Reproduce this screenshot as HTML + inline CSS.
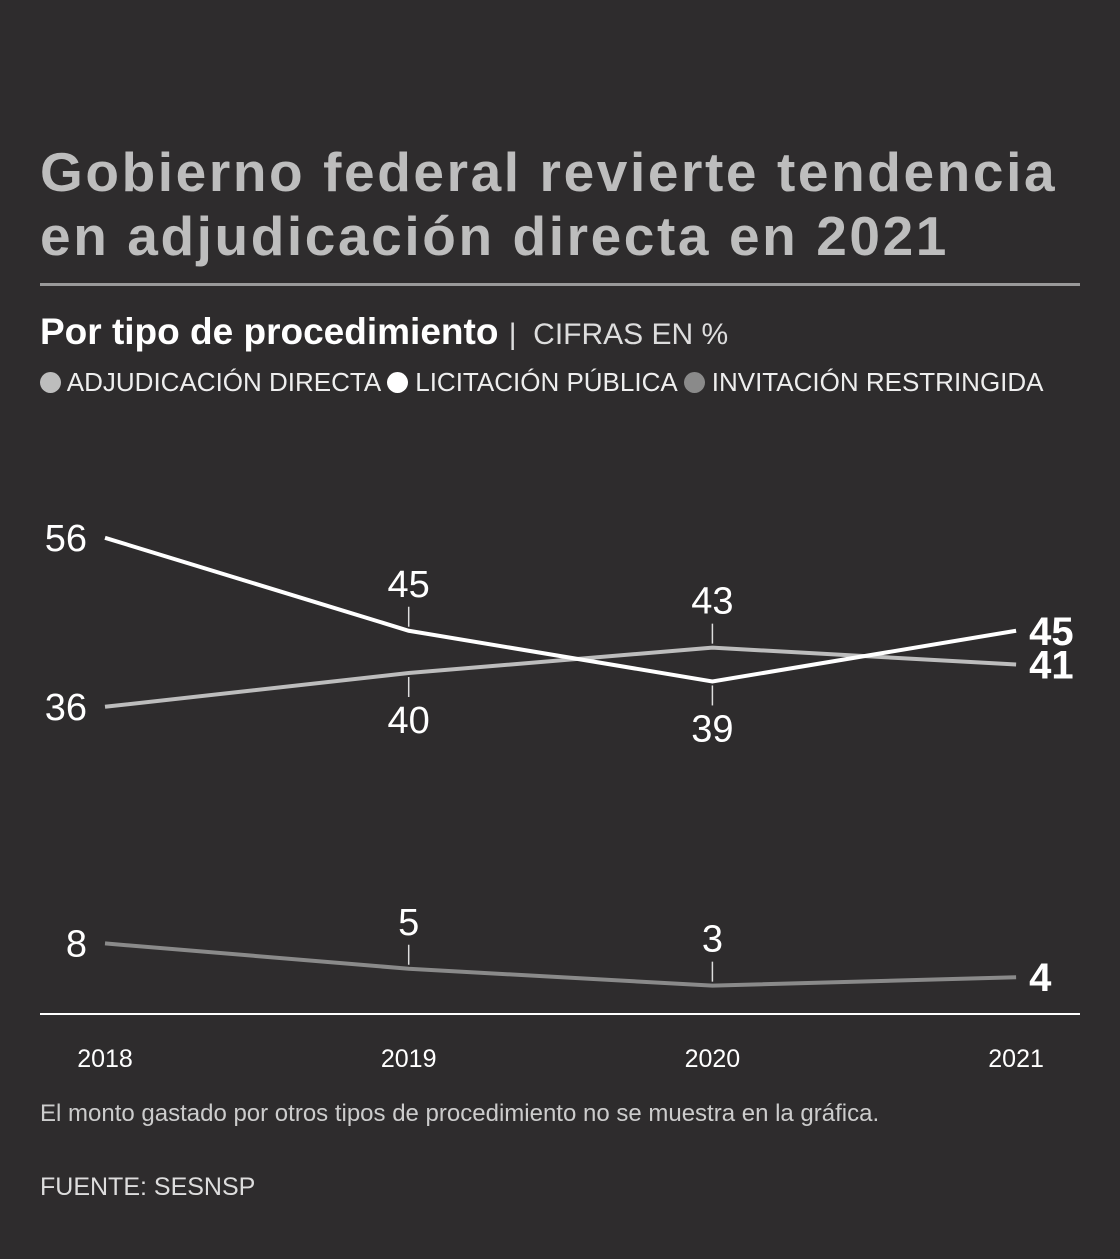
<!DOCTYPE html>
<html><head><meta charset="utf-8"><style>
html,body{margin:0;padding:0;background:#2e2c2d;}
body{width:1120px;height:1259px;overflow:hidden;font-family:"Liberation Sans",sans-serif;position:relative;}
.t{position:absolute;white-space:nowrap;}
</style></head><body>
<div class="t" style="left:40px;top:140px;font-size:55px;font-weight:bold;color:#bdbdbd;line-height:64px;letter-spacing:2.6px">Gobierno federal revierte tendencia<br>en adjudicación directa en 2021</div>
<div style="position:absolute;left:40px;top:283px;width:1040px;height:3px;background:#9a9a9a"></div>
<div class="t" style="left:40px;top:311px;font-size:37px;color:#fff"><b>Por tipo de procedimiento</b> <span style="font-size:30px;color:#ddd">| &nbsp;CIFRAS EN %</span></div>
<div class="t" style="left:40px;top:367px;font-size:26px;color:#eee">
<span><span style="display:inline-block;width:21px;height:21px;border-radius:50%;background:#bdbdbd;vertical-align:-2px"></span> ADJUDICACIÓN DIRECTA</span>
<span><span style="display:inline-block;width:21px;height:21px;border-radius:50%;background:#fff;vertical-align:-2px"></span> LICITACIÓN PÚBLICA</span>
<span><span style="display:inline-block;width:21px;height:21px;border-radius:50%;background:#8a8a8a;vertical-align:-2px"></span> INVITACIÓN RESTRINGIDA</span></div>
<svg id="chart" width="1120" height="1259" style="position:absolute;left:0;top:0" font-family="Liberation Sans, sans-serif"></svg>
<div class="t" style="left:40px;top:1100px;font-size:24px;color:#ccc">El monto gastado por otros tipos de procedimiento no se muestra en la gráfica.</div>
<div class="t" style="left:40px;top:1173px;font-size:25px;color:#ddd">FUENTE: SESNSP</div>
<script>
const years=["2018","2019","2020","2021"];
const adjudicacion=[36,40,43,41];
const licitacion=[56,45,39,45];
const invitacion=[8,5,3,4];
// label placement: 1 = above, -1 = below
const adjPos=[0,-1,1,0];
const licPos=[0,1,-1,0];
const invPos=[0,1,1,0];
const NS="http://www.w3.org/2000/svg";
const svg=document.getElementById('chart');
const x=i=>105+i*303.7;
const y=v=>1011-v*8.45;
function mk(t,a){const e=document.createElementNS(NS,t);for(const k in a)e.setAttribute(k,a[k]);svg.appendChild(e);return e;}
const base=mk('line',{x1:40,x2:1080,y1:1014,y2:1014,stroke:'#fff','stroke-width':2});


years.forEach((yr,i)=>{const t=mk('text',{x:x(i),y:1067,fill:'#fff','font-size':25,'text-anchor':'middle'});t.textContent=yr;

});
function series(vals,pos,color,name){
  const pts=vals.map((v,i)=>x(i)+','+y(v)).join(' ');
  vals.forEach((v,i)=>{
    let t;
    if(i===0){t=mk('text',{x:x(0)-18,y:y(v)+13,fill:'#fff','font-size':38,'text-anchor':'end'});}
    else if(i===vals.length-1){t=mk('text',{x:x(i)+13,y:y(v)+14,fill:'#fff','font-size':40,'font-weight':'bold'});}
    else{
      const d=pos[i];
      const tk=mk('line',{x1:x(i),x2:x(i),y1:y(v)-d*4,y2:y(v)-d*24,stroke:'#ddd','stroke-width':1.5});
      
      
      t=mk('text',{x:x(i),y:d>0?y(v)-34:y(v)+60,fill:'#fff','font-size':38,'text-anchor':'middle'});
    }
    t.textContent=v;
    
    
  });
  const l=mk('polyline',{points:pts,fill:'none',stroke:color,'stroke-width':4,'stroke-linejoin':'miter'});
  
  
}
series(invitacion,invPos,'#8a8a8a','invitacion');
series(adjudicacion,adjPos,'#bdbdbd','adjudicacion');
series(licitacion,licPos,'#ffffff','licitacion');
</script>
</body></html>
